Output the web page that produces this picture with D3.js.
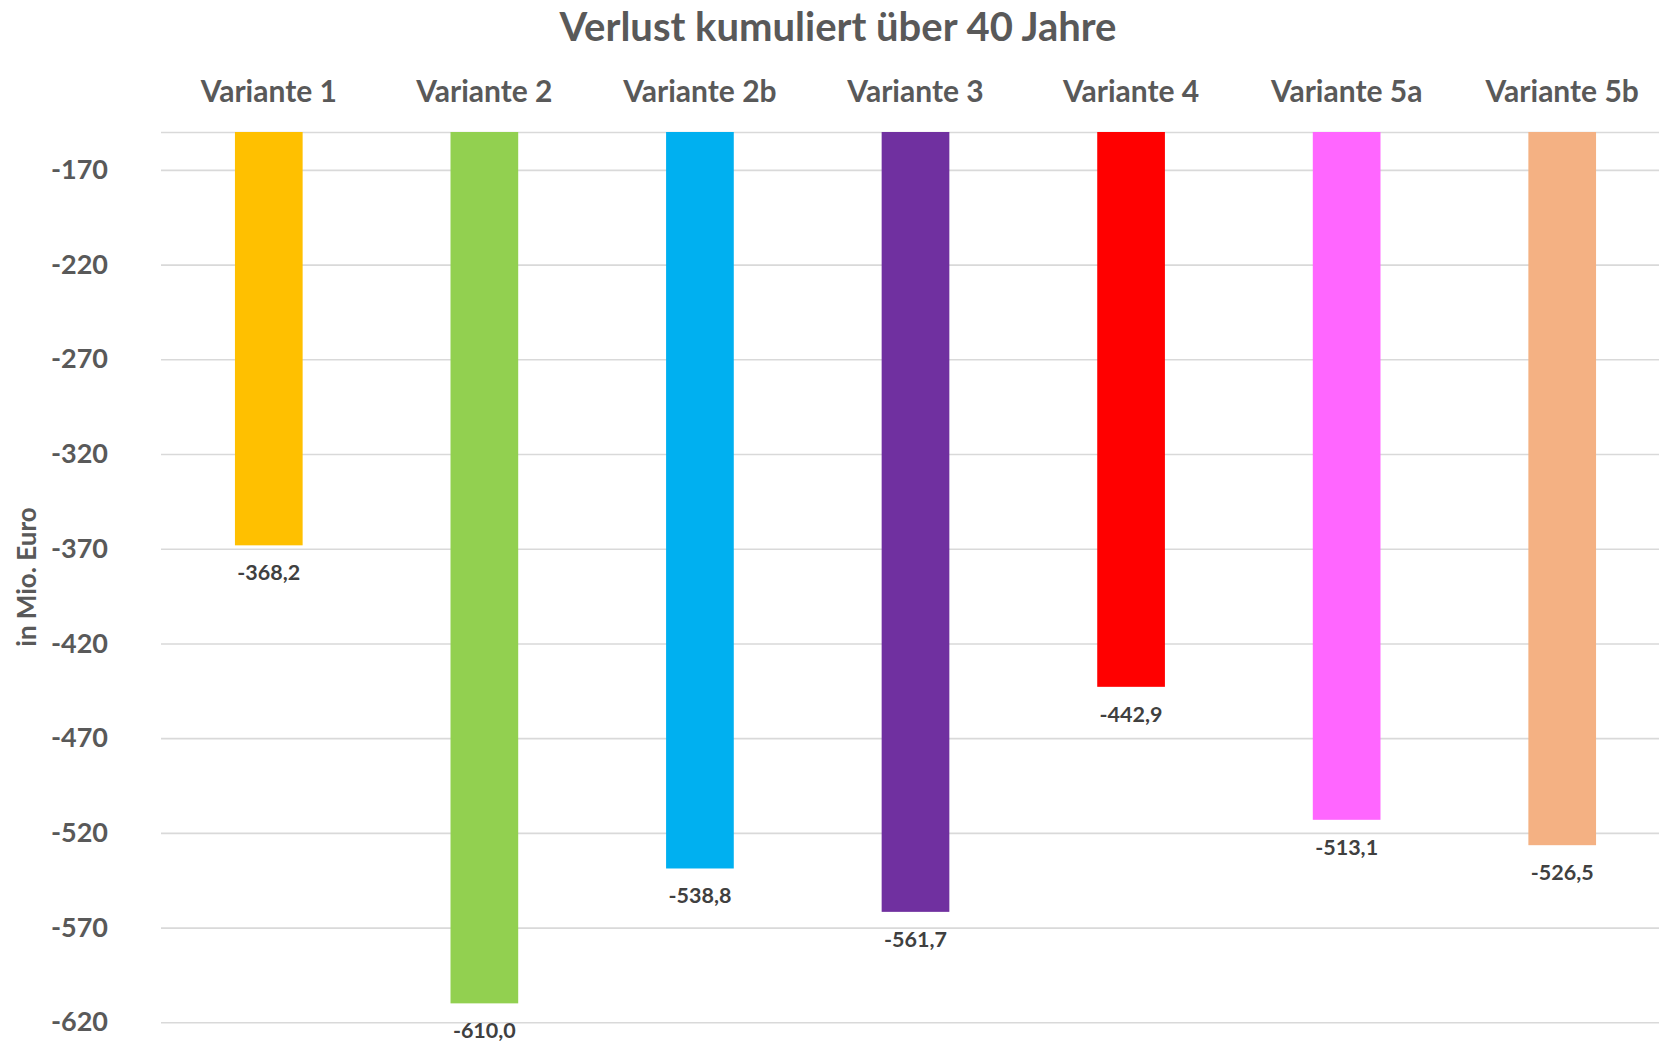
<!DOCTYPE html>
<html>
<head>
<meta charset="utf-8">
<script src="https://cdn.jsdelivr.net/npm/d3@7"></script>
<style>
  html, body { margin: 0; padding: 0; background: #fff; overflow: hidden; }
  svg { display: block; font-family: Lato, "Open Sans", sans-serif; font-weight: 700; }
</style>
</head>
<body>
<svg id="chart" width="1659" height="1043"></svg>
<script>
// Cumulative loss per variant (million euro)
const categories = ["Variante 1", "Variante 2", "Variante 2b", "Variante 3", "Variante 4", "Variante 5a", "Variante 5b"];
const values = [-368.2, -610.0, -538.8, -561.7, -442.9, -513.1, -526.5];
const barColors = ["#FFC000", "#92D050", "#00B0F0", "#7030A0", "#FF0000", "#FF66FF", "#F4B183"];
const yTicks = [-170, -220, -270, -320, -370, -420, -470, -520, -570, -620];
const yMax = -150;
const yMin = -620;

const title = "Verlust kumuliert über 40 Jahre";
const yTitle = "in Mio. Euro";

const svg = d3.select("#chart");
const plot = { left: 161, right: 1670, top: 132, bottom: 1022.3 };

const x = d3.scaleBand()
  .domain(categories)
  .range([plot.left, plot.right])
  .paddingInner(0.686)
  .paddingOuter(0.343);

const y = d3.scaleLinear()
  .domain([yMax, yMin])
  .range([plot.top, plot.bottom]);

const de = d3.formatLocale({ decimal: ",", thousands: ".", grouping: [3], currency: ["", " €"], minus: "-" });
const fmt = de.format(".1f");

// Gridlines (including the top line at the axis maximum)
const grid = svg.append("g")
  .attr("transform", `translate(${plot.left},0)`)
  .call(d3.axisLeft(y).tickValues([yMax, ...yTicks]).tickSize(-(plot.right - plot.left)).tickFormat(""));
grid.select(".domain").remove();
grid.selectAll(".tick line").attr("stroke", "#d9d9d9").attr("stroke-width", 1.6);

// Value axis labels
const yAxis = svg.append("g")
  .attr("transform", `translate(${plot.left},0)`)
  .call(d3.axisLeft(y).tickValues(yTicks).tickSize(0).tickPadding(53).tickFormat(d => de.format("d")(d)));
yAxis.select(".domain").remove();
yAxis.selectAll("text")
  .attr("fill", "#595959")
  .style("font-family", "Lato, sans-serif")
  .style("font-weight", 700)
  .style("font-size", "27px");

// Category labels above the plot
const xAxis = svg.append("g")
  .attr("transform", `translate(0,${plot.top})`)
  .call(d3.axisTop(x).tickSize(0).tickPadding(30));
xAxis.select(".domain").remove();
xAxis.selectAll("text")
  .attr("fill", "#595959")
  .attr("dy", "0em")
  .style("font-family", "Lato, sans-serif")
  .style("font-weight", 700)
  .style("font-size", "30px");

// Bars hanging from the top of the axis
svg.append("g").selectAll("rect")
  .data(categories)
  .join("rect")
  .attr("x", d => x(d))
  .attr("width", x.bandwidth())
  .attr("y", y(yMax))
  .attr("height", (d, i) => y(values[i]) - y(yMax))
  .attr("fill", (d, i) => barColors[i]);

// Value labels under each bar
svg.append("g").selectAll("text")
  .data(categories)
  .join("text")
  .attr("x", d => x(d) + x.bandwidth() / 2)
  .attr("y", (d, i) => y(values[i]) + 35)
  .attr("text-anchor", "middle")
  .attr("fill", "#404040")
  .style("font-size", "21.5px")
  .text((d, i) => fmt(values[i]));

// Chart title
svg.append("text")
  .attr("x", 838)
  .attr("y", 41)
  .attr("text-anchor", "middle")
  .attr("fill", "#595959")
  .style("font-size", "40px")
  .text(title);

// Value axis title
svg.append("text")
  .attr("transform", "translate(36,577) rotate(-90)")
  .attr("text-anchor", "middle")
  .attr("fill", "#595959")
  .style("font-size", "26px")
  .text(yTitle);
</script>
</body>
</html>
